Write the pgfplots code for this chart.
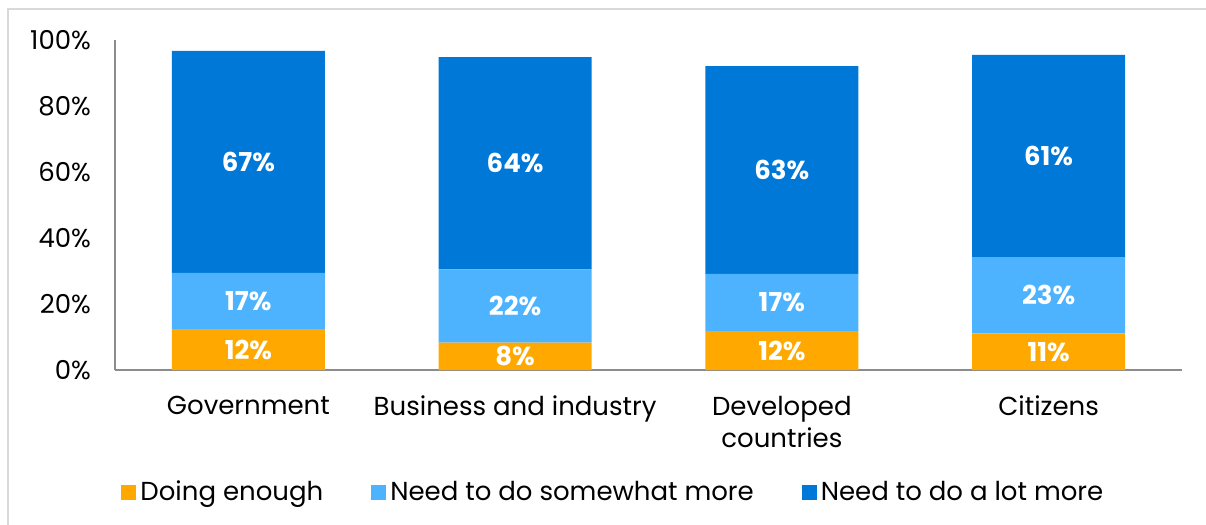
\documentclass[border=0pt]{standalone}
\usepackage{fontspec}
\setmainfont{Poppins}
\usepackage{pgfplots}
\pgfplotsset{compat=1.18}
\usepackage{pgfplotstable}
\definecolor{cOrange}{HTML}{FFA900}
\definecolor{cLight}{HTML}{4DB3FF}
\definecolor{cDark}{HTML}{0078D7}
\definecolor{frameGray}{HTML}{D9D9D9}
\definecolor{axGray}{HTML}{8C8C8C}
% y = bar heights, l = printed labels
\pgfplotstableread{
x enough somewhat lot  lenough lsomewhat llot
0 12.4   17.0     67.3 12      17        67
1 8.3    22.2     64.3 8       22        64
2 11.8   17.3     63.0 12      17        63
3 11.1   23.1     61.3 11      23        61
}\data
\newcommand{\basefont}{\fontsize{13}{16}\selectfont}
\begin{document}
\begin{tikzpicture}
\useasboundingbox (0,0) rectangle (603pt,262.5pt);
\draw[frameGray, line width=1pt] (3.75pt,0) -- (3.75pt,257.75pt) -- (603pt,257.75pt);
\begin{axis}[
  at={(57.5pt,77.5pt)}, anchor=south west,
  scale only axis, width=533.5pt, height=165pt,
  xmin=-0.5, xmax=3.5, ymin=0, ymax=100,
  ybar stacked, bar width=76.5pt,
  axis x line*=bottom, axis y line*=left,
  x axis line style={-, draw=axGray, line width=1pt},
  y axis line style={-, draw=axGray, line width=0.75pt},
  major tick length=0pt, tick style={draw=none},
  ytick={0,20,...,100},
  yticklabel={\pgfmathprintnumber{\tick}\%},
  yticklabel style={font=\basefont, xshift=-8.5pt},
  xtick={0,1,2,3},
  xticklabels={Government, Business and industry, {Developed\\countries}, Citizens},
  xticklabel style={font=\basefont, align=center, yshift=-9.5pt},
  /pgf/number format/assume math mode=true,
  point meta=explicit,
  nodes near coords={\pgfmathprintnumber{\pgfplotspointmeta}\%},
  every node near coord/.append style={font=\basefont\bfseries, text=white, anchor=center},
  legend style={at={(0.468,-0.37)}, anchor=center, draw=none, font=\basefont,
    legend columns=3, /tikz/every even column/.append style={column sep=22pt}},
  legend image code/.code={\fill[#1] (0pt,-3.75pt) rectangle (7.5pt,3.75pt);},
]
\addplot[fill=cOrange, draw=none] table[x=x, y=enough, meta=lenough] \data;
\addplot[fill=cLight, draw=none] table[x=x, y=somewhat, meta=lsomewhat] \data;
\addplot[fill=cDark, draw=none] table[x=x, y=lot, meta=llot] \data;
\legend{Doing enough, Need to do somewhat more, Need to do a lot more}
\end{axis}
\end{tikzpicture}
\end{document}
